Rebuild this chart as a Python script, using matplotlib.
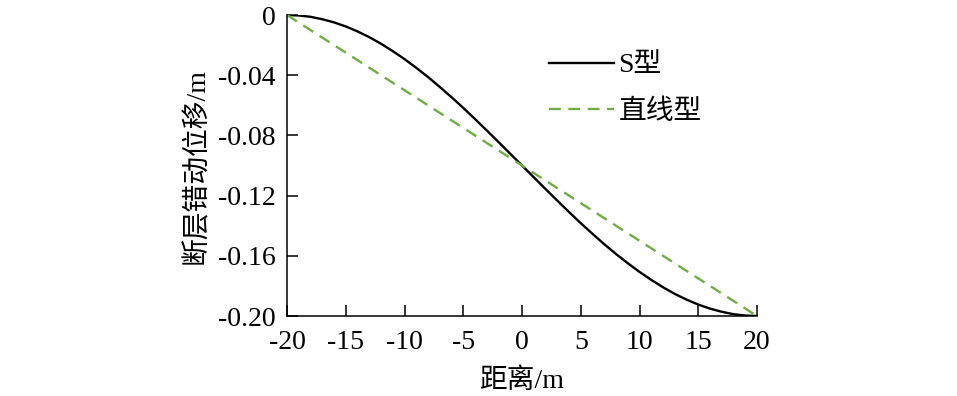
import matplotlib
matplotlib.use("Agg")
import matplotlib.pyplot as plt

plt.rcParams['font.family'] = ['Liberation Serif', 'Noto Sans CJK SC']

# data
dist = list(range(-20, 21))
s_type = [0.0, -0.0003, -0.0012, -0.0028, -0.0049, -0.0076, -0.0109, -0.0147, -0.0191, -0.0240,
          -0.0293, -0.0351, -0.0412, -0.0478, -0.0546, -0.0617, -0.0691, -0.0767, -0.0844, -0.0922,
          -0.1000,
          -0.1078, -0.1156, -0.1233, -0.1309, -0.1383, -0.1454, -0.1523, -0.1588, -0.1649,
          -0.1707, -0.1760, -0.1809, -0.1853, -0.1891, -0.1924, -0.1951, -0.1972, -0.1988, -0.1997,
          -0.2000]
line_x = [-20, 20]
line_y = [0.0, -0.2]
xticks = [-20, -15, -10, -5, 0, 5, 10, 15, 20]
yticks = [0, -0.04, -0.08, -0.12, -0.16, -0.20]
ytick_labels = ['0', '-0.04', '-0.08', '-0.12', '-0.16', '-0.20']

fig = plt.figure(figsize=(9.57, 3.96), dpi=100)
ax = fig.add_axes([287/957, (396-316)/396, (757-287)/957, (316-15)/396])

ax.plot(dist, s_type, color='black', lw=1.7, label='S型')
ax.plot(line_x, line_y, color='#70AD47', lw=1.7, ls=(0, (5, 3.2)), label='直线型')

ax.set_xlim(-20, 20)
ax.set_ylim(-0.2, 0)
ax.set_xticks(xticks)
ax.set_xticklabels([str(t) for t in xticks])
ax.set_yticks(yticks)
ax.set_yticklabels(ytick_labels)
for s in ['top', 'right']:
    ax.spines[s].set_visible(False)
for s in ['left', 'bottom']:
    ax.spines[s].set_linewidth(1.1)
ax.tick_params(direction='in', length=8, width=1.1, labelsize=20)
ax.tick_params(axis='y', pad=8)
ax.tick_params(axis='x', pad=10)
ax.set_xlabel('距离/m', fontsize=20, labelpad=10)
ax.set_ylabel('断层错动位移/m', fontsize=20, labelpad=6)

leg = ax.legend(loc='upper left', bbox_to_anchor=((524-287)/470, (316-28)/301), frameon=False,
                fontsize=20, handlelength=2.35, handletextpad=0.15, labelspacing=0.75)

fig.savefig('out.png', dpi=100)
